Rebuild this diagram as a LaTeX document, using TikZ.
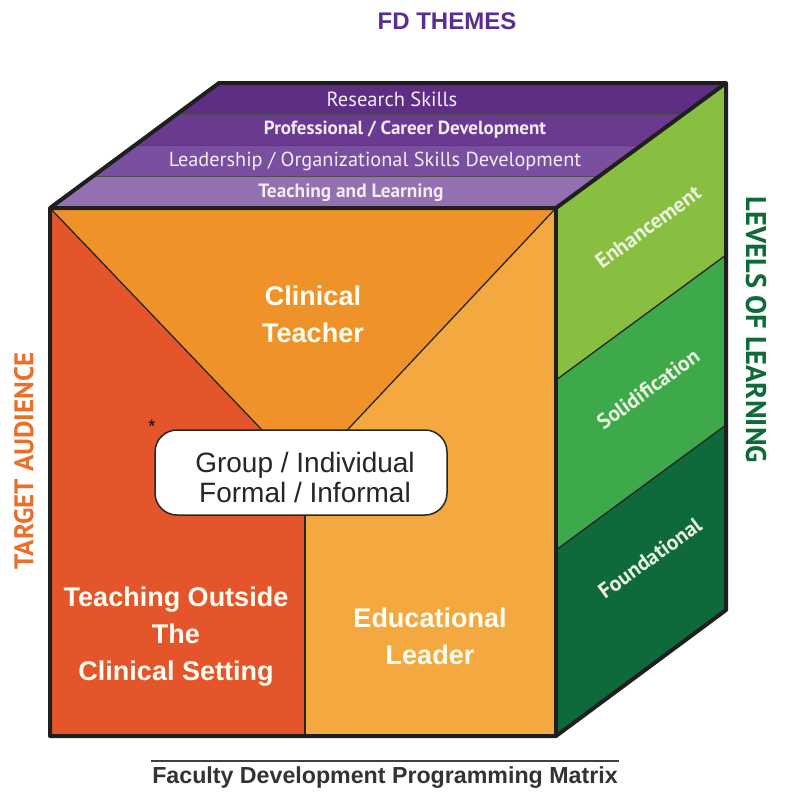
\documentclass[tikz,border=0pt]{standalone}
\usepackage{fontspec}
\setmainfont{Liberation Sans}
\newfontfamily\ptsans{PT Sans}
\usetikzlibrary{calc}
\definecolor{cTop}{HTML}{EF9229}
\definecolor{cLeft}{HTML}{E4552C}
\definecolor{cRight}{HTML}{F3A840}
\definecolor{pA}{HTML}{5D2E83}
\definecolor{pB}{HTML}{6A3A91}
\definecolor{pC}{HTML}{7B4F9F}
\definecolor{pD}{HTML}{9370B0}
\definecolor{gA}{HTML}{89BF41}
\definecolor{gB}{HTML}{3DA94A}
\definecolor{gC}{HTML}{0F6A3B}
\definecolor{lblPurple}{HTML}{5B2D8E}
\definecolor{lblOrange}{HTML}{E8702A}
\definecolor{lblGreen}{HTML}{0F6A3A}
\definecolor{gText}{HTML}{EAF3DF}
\definecolor{pText}{HTML}{F2ECF6}
\begin{document}
\begin{tikzpicture}[x=1pt,y=-1pt,line join=round,
  edge/.style={line width=4pt,draw=black!88},
  inner/.style={line width=1.3pt,draw=black!85},
  stripe/.style={line width=1pt,draw=black!70},
  stripetext/.style={text=pText,inner sep=0pt},
  facetext/.style={text=white!95!yellow,align=center,inner sep=0pt,font=\bfseries\fontsize{27}{37}\selectfont},
  greentext/.style={text=gText,inner sep=0pt,rotate=36,font=\ptsans\bfseries\fontsize{21.5}{24}\selectfont},
  sidelabel/.style={inner sep=0pt}]
\useasboundingbox (0,0) rectangle (786,793);
% corners
\coordinate (FLT) at (50,208);
\coordinate (FRT) at (556,208);
\coordinate (FRB) at (556,736);
\coordinate (FLB) at (50,736);
\coordinate (BLT) at (219,83);
\coordinate (BRT) at (726,83);
\coordinate (BRB) at (726,610);
\coordinate (C) at (305,475);
\coordinate (CB) at (305,736);
% front face regions
\fill[cTop] (FLT) -- (FRT) -- (C) -- cycle;
\fill[cLeft] (FLT) -- (C) -- (CB) -- (FLB) -- cycle;
\fill[cRight] (FRT) -- (C) -- (CB) -- (FRB) -- cycle;
\draw[inner] (FLT) -- (C) -- (FRT);
\draw[inner] (C) -- (CB);
% top face stripes
\foreach \i/\c in {0/pA,1/pB,2/pC,3/pD}{
  \pgfmathsetmacro{\a}{\i/4}
  \pgfmathsetmacro{\b}{(\i+1)/4}
  \fill[\c] ($(BLT)!\a!(FLT)$) -- ($(BRT)!\a!(FRT)$) -- ($(BRT)!\b!(FRT)$) -- ($(BLT)!\b!(FLT)$) -- cycle;
}
\foreach \a in {0.25,0.5,0.75}{
  \draw[stripe] ($(BLT)!\a!(FLT)$) -- ($(BRT)!\a!(FRT)$);
}
% right face
\coordinate (E1) at (556,380);
\coordinate (E2) at (726,255);
\coordinate (S1) at (556,550);
\coordinate (S2) at (726,425);
\fill[gA] (FRT) -- (BRT) -- (E2) -- (E1) -- cycle;
\fill[gB] (E1) -- (E2) -- (S2) -- (S1) -- cycle;
\fill[gC] (S1) -- (S2) -- (BRB) -- (FRB) -- cycle;
\draw[inner] (E1) -- (E2);
\draw[inner] (S1) -- (S2);
% cube edges
\draw[edge] (FLT) -- (BLT) -- (BRT) -- (BRB) -- (FRB) -- (FLB) -- cycle;
\draw[edge] (FLT) -- (FRT) -- (BRT);
\draw[edge] (FRT) -- (FRB);
% stripe texts
\node[stripetext,font=\ptsans\fontsize{20.5}{22}\selectfont] (t1) at (392,99) {Research Skills};
\node[stripetext,font=\ptsans\bfseries\fontsize{19}{22}\selectfont] (t2) at (405,130) {Professional / Career Development};
\node[stripetext,font=\ptsans\fontsize{20.3}{22}\selectfont] (t3) at (375,161.5) {Leadership / Organizational Skills Development};
\node[stripetext,font=\ptsans\bfseries\fontsize{19.3}{22}\selectfont] (t4) at (351,193) {Teaching and Learning};
% green texts
\node[greentext] (g1) at (648,227) {Enhancement};
\node[greentext] (g2) at (648,389) {Solidification};
\node[greentext] (g3) at (650,558) {Foundational};
% front face texts
\node[facetext] (ct) at (313,314) {Clinical\\Teacher};
\node[facetext] (to) at (176,637) {Teaching Outside\\The\\Clinical Setting};
\node[facetext] (el) at (430,636) {Educational\\Leader};
% central box
\node[draw=black!85,fill=white,line width=1.5pt,rounded corners=22pt,minimum width=292pt,minimum height=85pt,inner sep=0pt] (mid) at (301,472.5) {};
\node[align=center,inner sep=0pt,text=black!85,font=\fontsize{28}{30}\selectfont] (midtext) at (305,477) {Group / Individual\\Formal / Informal};
\node[inner sep=0pt,font=\fontsize{18}{20}\selectfont] (star) at (152,426) {*};
% side labels
\node[sidelabel,text=lblPurple,font=\bfseries\fontsize{24}{28}\selectfont] (fd) at (447,21) {FD THEMES};
\node[sidelabel,text=lblOrange,rotate=90,font=\ptsans\bfseries\fontsize{27}{30}\selectfont] (ta) at (24,461) {TARGET AUDIENCE};
\node[sidelabel,text=lblGreen,rotate=-90,font=\ptsans\bfseries\fontsize{28.5}{30}\selectfont] (ll) at (756,330) {LEVELS OF LEARNING};
% bottom caption
\coordinate (capL) at (151,761);
\coordinate (capR) at (619,761);
\draw[line width=1.6pt,draw=black!75] (capL) -- (capR);
\node[inner sep=0pt,text=black!80,font=\bfseries\fontsize{23.2}{26}\selectfont] (cap) at (385,778) {Faculty Development Programming Matrix};
\end{tikzpicture}
\end{document}
